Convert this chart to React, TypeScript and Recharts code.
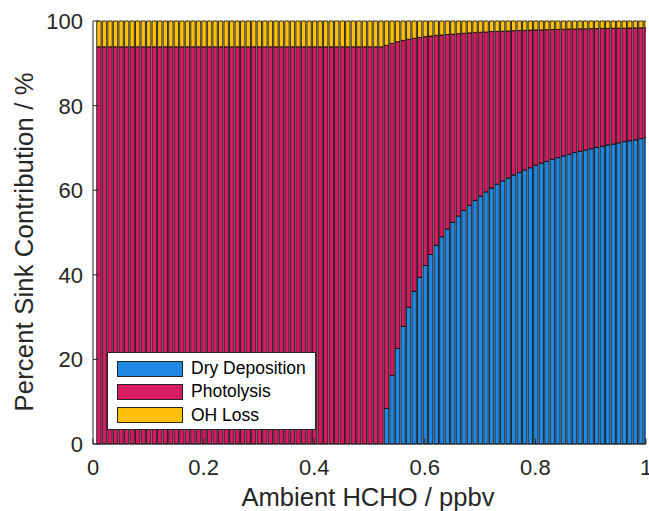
import React from 'react';
import { BarChart, Bar, XAxis, YAxis, Legend } from 'recharts';

const hcho = [
  0.01, 0.02, 0.03, 0.04, 0.05, 0.06, 0.07, 0.08, 0.09, 0.10,
  0.11, 0.12, 0.13, 0.14, 0.15, 0.16, 0.17, 0.18, 0.19, 0.20,
  0.21, 0.22, 0.23, 0.24, 0.25, 0.26, 0.27, 0.28, 0.29, 0.30,
  0.31, 0.32, 0.33, 0.34, 0.35, 0.36, 0.37, 0.38, 0.39, 0.40,
  0.41, 0.42, 0.43, 0.44, 0.45, 0.46, 0.47, 0.48, 0.49, 0.50,
  0.51, 0.52, 0.53, 0.54, 0.55, 0.56, 0.57, 0.58, 0.59, 0.60,
  0.61, 0.62, 0.63, 0.64, 0.65, 0.66, 0.67, 0.68, 0.69, 0.70,
  0.71, 0.72, 0.73, 0.74, 0.75, 0.76, 0.77, 0.78, 0.79, 0.80,
  0.81, 0.82, 0.83, 0.84, 0.85, 0.86, 0.87, 0.88, 0.89, 0.90,
  0.91, 0.92, 0.93, 0.94, 0.95, 0.96, 0.97, 0.98, 0.99, 1.00,
];

const dryDeposition = [
  0, 0, 0, 0, 0, 0, 0, 0, 0, 0,
  0, 0, 0, 0, 0, 0, 0, 0, 0, 0,
  0, 0, 0, 0, 0, 0, 0, 0, 0, 0,
  0, 0, 0, 0, 0, 0, 0, 0, 0, 0,
  0, 0, 0, 0, 0, 0, 0, 0, 0, 0,
  0, 0, 8.4, 16.2, 22.6, 27.8, 32.3, 36.1, 39.4, 42.2,
  44.8, 47.0, 49.0, 50.8, 52.4, 53.9, 55.2, 56.4, 57.6, 58.6,
  59.6, 60.5, 61.4, 62.2, 62.9, 63.6, 64.2, 64.8, 65.3, 65.9,
  66.4, 66.8, 67.3, 67.7, 68.1, 68.5, 68.9, 69.2, 69.5, 69.8,
  70.1, 70.4, 70.7, 70.9, 71.2, 71.5, 71.7, 71.9, 72.2, 72.4,
];

const photolysis = [
  93.9, 93.9, 93.9, 93.9, 93.9, 93.9, 93.9, 93.9, 93.9, 93.9,
  93.9, 93.9, 93.9, 93.9, 93.9, 93.9, 93.9, 93.9, 93.9, 93.9,
  93.9, 93.9, 93.9, 93.9, 93.9, 93.9, 93.9, 93.9, 93.9, 93.9,
  93.9, 93.9, 93.9, 93.9, 93.9, 93.9, 93.9, 93.9, 93.9, 93.9,
  93.9, 93.9, 93.9, 93.9, 93.9, 93.9, 93.9, 93.9, 93.9, 93.9,
  93.9, 93.9, 85.85, 78.5, 72.5, 67.6, 63.4, 59.8, 56.7, 54.1,
  51.65, 49.6, 47.7, 46.0, 44.5, 43.1, 41.9, 40.8, 39.7, 38.75,
  37.8, 37.0, 36.15, 35.4, 34.75, 34.1, 33.55, 33.0, 32.55, 32.0,
  31.5, 31.15, 30.7, 30.3, 29.95, 29.6, 29.2, 28.95, 28.65, 28.4,
  28.1, 27.85, 27.55, 27.4, 27.1, 26.8, 26.65, 26.45, 26.2, 26.0,
];

const ohLoss = [
  6.1, 6.1, 6.1, 6.1, 6.1, 6.1, 6.1, 6.1, 6.1, 6.1,
  6.1, 6.1, 6.1, 6.1, 6.1, 6.1, 6.1, 6.1, 6.1, 6.1,
  6.1, 6.1, 6.1, 6.1, 6.1, 6.1, 6.1, 6.1, 6.1, 6.1,
  6.1, 6.1, 6.1, 6.1, 6.1, 6.1, 6.1, 6.1, 6.1, 6.1,
  6.1, 6.1, 6.1, 6.1, 6.1, 6.1, 6.1, 6.1, 6.1, 6.1,
  6.1, 6.1, 5.75, 5.3, 4.9, 4.6, 4.3, 4.1, 3.9, 3.7,
  3.55, 3.4, 3.3, 3.2, 3.1, 3.0, 2.9, 2.8, 2.7, 2.65,
  2.6, 2.5, 2.45, 2.4, 2.35, 2.3, 2.25, 2.2, 2.15, 2.1,
  2.1, 2.05, 2.0, 2.0, 1.95, 1.9, 1.9, 1.85, 1.85, 1.8,
  1.8, 1.75, 1.75, 1.7, 1.7, 1.7, 1.65, 1.65, 1.6, 1.6,
];

const xTicks = [0, 0.2, 0.4, 0.6, 0.8, 1];
const yTicks = [0, 20, 40, 60, 80, 100];

const seriesNames = ['Dry Deposition', 'Photolysis', 'OH Loss'];
const seriesKeys = ['dry', 'photo', 'oh'];
const seriesColors = ['#1E88E5', '#D81B60', '#FFC107'];

const data = hcho.map((x, i) => ({
  x,
  dry: dryDeposition[i],
  photo: photolysis[i],
  oh: ohLoss[i],
}));

const AXIS = '#262626';
const FONT = '"Liberation Sans", Arial, Helvetica, sans-serif';
const TL = 5.5;

const fmtX = (v: number) => (v === 0 || v === 1 ? String(v) : v.toFixed(1));

const BottomTick = (props: any) => {
  const { x, y, payload } = props;
  return (
    <g>
      <line x1={x} x2={x} y1={y} y2={y - TL} stroke={AXIS} strokeWidth={1} />
      <text x={x} y={y + 31} textAnchor="middle" fontSize={22} fill={AXIS} fontFamily={FONT}>
        {fmtX(payload.value)}
      </text>
    </g>
  );
};

const TopTick = (props: any) => {
  const { x, y } = props;
  return <line x1={x} x2={x} y1={y} y2={y + TL} stroke={AXIS} strokeWidth={1} />;
};

const LeftTick = (props: any) => {
  const { x, y, payload } = props;
  return (
    <g>
      <line x1={x} x2={x + TL} y1={y} y2={y} stroke={AXIS} strokeWidth={1} />
      <text x={x - 10} y={y + 8} textAnchor="end" fontSize={22} fill={AXIS} fontFamily={FONT}>
        {payload.value}
      </text>
    </g>
  );
};

const RightTick = (props: any) => {
  const { x, y } = props;
  return <line x1={x} x2={x - TL} y1={y} y2={y} stroke={AXIS} strokeWidth={1} />;
};

const LegendBox = () => (
  <div
    style={{
      width: 209,
      height: 78,
      boxSizing: 'border-box',
      background: '#fff',
      border: `1px solid ${AXIS}`,
      position: 'relative',
      fontFamily: FONT,
    }}
  >
    {seriesNames.map((name, i) => (
      <div
        key={name}
        style={{ position: 'absolute', left: 9, top: 7 + i * 23.3, height: 17, display: 'flex', alignItems: 'center' }}
      >
        <div
          style={{
            width: 66,
            height: 16,
            boxSizing: 'border-box',
            background: seriesColors[i],
            border: '1px solid #222',
          }}
        />
        <span style={{ marginLeft: 8, fontSize: 17.5, color: '#000', whiteSpace: 'nowrap', lineHeight: '17px' }}>
          {name}
        </span>
      </div>
    ))}
  </div>
);

export default function App() {
  return (
    <>
      <style>{`html, body { margin: 0; padding: 0; overflow: hidden; }`}</style>
      <BarChart
        width={649}
        height={511}
        data={data}
        margin={{ top: 21, right: 3, bottom: 7, left: 0 }}
        barSize={4.4}
      >
        <XAxis
          dataKey="x"
          type="number"
          domain={[0, 1]}
          ticks={xTicks}
          allowDataOverflow
          height={60}
          stroke={AXIS}
          tickSize={0}
          tickMargin={0}
          tick={<BottomTick />}
          interval={0}
          label={{
            content: () => (
              <text x={368} y={505.7} textAnchor="middle" fontSize={25.6} fill={AXIS} fontFamily={FONT}>
                Ambient HCHO / ppbv
              </text>
            ),
          }}
        />
        <XAxis
          xAxisId="top"
          orientation="top"
          dataKey="x"
          type="number"
          domain={[0, 1]}
          ticks={xTicks}
          height={0}
          stroke={AXIS}
          tickSize={0}
          tickMargin={0}
          tick={<TopTick />}
          interval={0}
        />
        <YAxis
          type="number"
          domain={[0, 100]}
          ticks={yTicks}
          width={93}
          stroke={AXIS}
          tickSize={0}
          tickMargin={0}
          tick={<LeftTick />}
          interval={0}
          label={{
            content: () => (
              <text
                x={33}
                y={242}
                transform="rotate(-90 33 242)"
                textAnchor="middle"
                fontSize={25.6}
                fill={AXIS}
                fontFamily={FONT}
                textLength={339}
                lengthAdjust="spacing"
              >
                Percent Sink Contribution / %
              </text>
            ),
          }}
        />
        <YAxis
          yAxisId="right"
          orientation="right"
          type="number"
          domain={[0, 100]}
          ticks={yTicks}
          width={0}
          stroke={AXIS}
          tickSize={0}
          tickMargin={0}
          tick={<RightTick />}
          interval={0}
        />
        {seriesKeys.map((k, i) => (
          <Bar
            key={k}
            dataKey={k}
            name={seriesNames[i]}
            stackId="s"
            fill={seriesColors[i]}
            stroke="#000"
            strokeWidth={0.8}
            isAnimationActive={false}
          />
        ))}
        <Legend
          layout="vertical"
          align="center"
          verticalAlign="middle"
          content={() => <LegendBox />}
          wrapperStyle={{ left: 107, top: 352, width: 209, height: 78 }}
        />
      </BarChart>
    </>
  );
}
